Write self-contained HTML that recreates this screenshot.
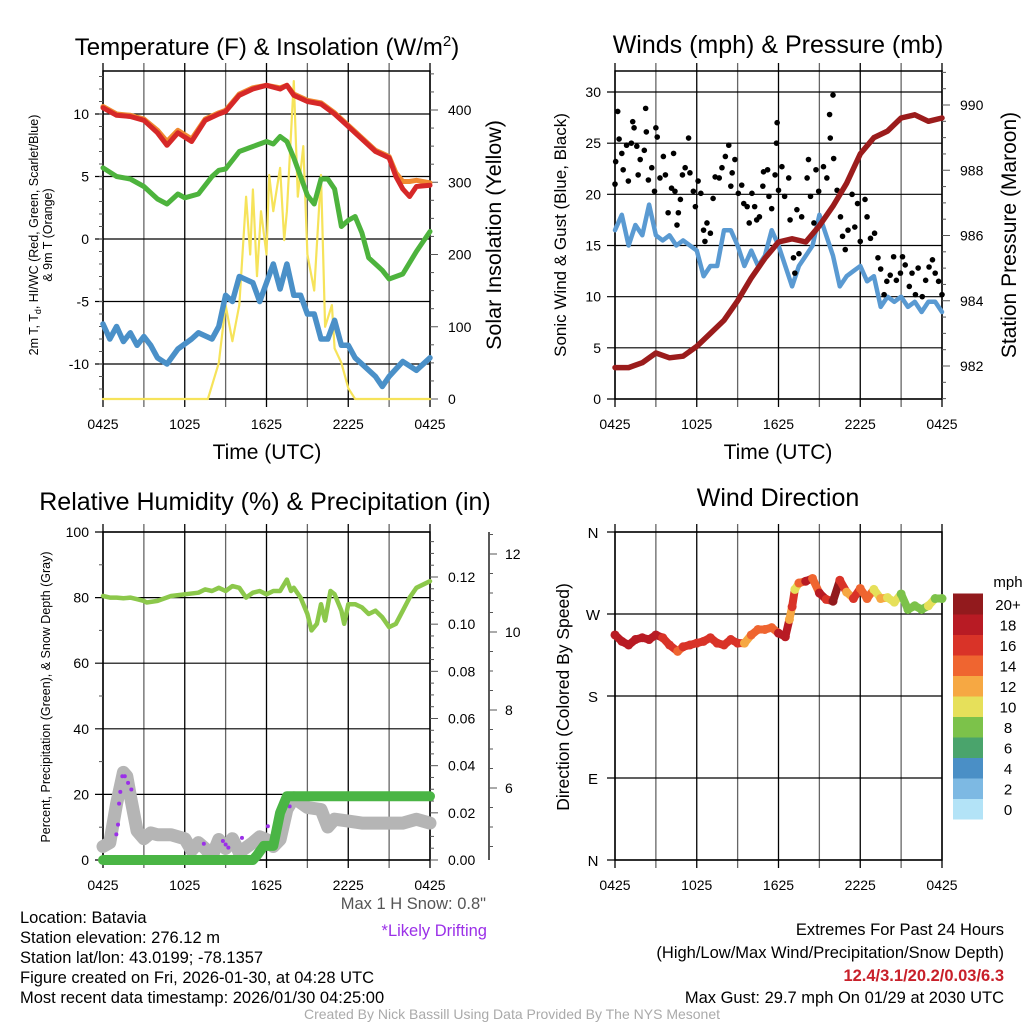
<!DOCTYPE html>
<html><head><meta charset="utf-8"><style>
html,body{margin:0;padding:0;background:#fff;}
svg{display:block;font-family:"Liberation Sans",sans-serif;}
</style></head><body>
<svg id="s" width="1024" height="1024" viewBox="0 0 1024 1024" xmlns="http://www.w3.org/2000/svg">
<g id="g"></g>
<text x="267" y="55" font-size="24" text-anchor="middle">Temperature (F) &amp; Insolation (W/m<tspan dy="-9" font-size="15">2</tspan><tspan dy="9">)</tspan></text>
<text x="778" y="53" font-size="25" text-anchor="middle">Winds (mph) &amp; Pressure (mb)</text>
<text x="265" y="510" font-size="25" text-anchor="middle">Relative Humidity (%) &amp; Precipitation (in)</text>
<text x="778" y="506" font-size="25" text-anchor="middle">Wind Direction</text>
<text x="267" y="459" font-size="21" text-anchor="middle">Time (UTC)</text>
<text x="778" y="459" font-size="21" text-anchor="middle">Time (UTC)</text>
<text transform="translate(38,235) rotate(-90)" font-size="12.5" text-anchor="middle">2m T, T<tspan font-size="9" dy="3">d</tspan><tspan dy="-3">, HI/WC (Red, Green, Scarlet/Blue)</tspan></text>
<text transform="translate(52,235) rotate(-90)" font-size="12.5" text-anchor="middle">&amp; 9m T (Orange)</text>
<text transform="translate(501,235) rotate(-90)" font-size="21.5" text-anchor="middle">Solar Insolation (Yellow)</text>
<text transform="translate(566,235) rotate(-90)" font-size="17" text-anchor="middle">Sonic Wind &amp; Gust (Blue, Black)</text>
<text transform="translate(1016,235) rotate(-90)" font-size="21" text-anchor="middle">Station Pressure (Maroon)</text>
<text transform="translate(50,697) rotate(-90)" font-size="12.5" text-anchor="middle">Percent, Precipitation (Green), &amp; Snow Depth (Gray)</text>
<text transform="translate(569,697) rotate(-90)" font-size="17.5" text-anchor="middle">Direction (Colored By Speed)</text>
<g font-size="16.5">
<text x="486" y="909" text-anchor="end" fill="#555">Max 1 H Snow: 0.8"</text>
<text x="487" y="936" text-anchor="end" fill="#9b30e8">*Likely Drifting</text>
<text x="20" y="923">Location: Batavia</text>
<text x="20" y="943">Station elevation: 276.12 m</text>
<text x="20" y="963">Station lat/lon: 43.0199; -78.1357</text>
<text x="20" y="983">Figure created on Fri, 2026-01-30, at 04:28 UTC</text>
<text x="20" y="1003">Most recent data timestamp: 2026/01/30 04:25:00</text>
<text x="1004" y="935" text-anchor="end">Extremes For Past 24 Hours</text>
<text x="1004" y="958" text-anchor="end">(High/Low/Max Wind/Precipitation/Snow Depth)</text>
<text x="1004" y="981" text-anchor="end" fill="#c8202a" font-weight="bold">12.4/3.1/20.2/0.03/6.3</text>
<text x="1004" y="1003" text-anchor="end">Max Gust: 29.7 mph On 01/29 at 2030 UTC</text>
<text x="512" y="1019" text-anchor="middle" fill="#aaa" font-size="14">Created By Nick Bassill Using Data Provided By The NYS Mesonet</text>
</g>
</svg>
<script>
// ---- Temperature panel data (hours since 0425 UTC) ----
const tempT = [0,1,2,3,4,4.7,5.5,6.5,7.5,8.5,9,10,11,12,13,13.5,14,15,16,17,18,19,20,21,21.5,22,22.5,23,24];
const tempV = [10.5,9.9,9.8,9.5,8.5,7.5,8.5,7.8,9.5,10,10.2,11.5,12,12.3,12,12.3,11.5,11,10.8,10,9,8,7,6.5,5,4,3.4,4.2,4.3];
const t9mV  = [10.6,10,9.9,9.6,8.7,7.8,8.7,8,9.6,10.1,10.3,11.6,12.1,12.3,12.1,12.3,11.6,11.1,10.9,10.1,9.1,8.1,7.1,6.6,5.3,4.6,4.6,4.7,4.5];
const dewT = [0,1,2,3,4,4.7,5.5,6,7,8,8.5,9,10,11,12,12.5,13,13.5,14,14.5,15,15.5,16,16.5,17,17.5,18,18.5,19,19.5,20.5,21,22,23,24];
const dewV = [5.7,5,4.8,4.2,3.2,2.8,3.6,3.3,3.6,5,5.5,5.6,7,7.4,7.8,7.6,8.2,7.8,6.5,5,3.5,2.8,4.8,4.8,4,1,1.5,1.8,0.5,-1.5,-2.5,-3.2,-2.8,-1,0.6];
const wcT = [0,0.5,1,1.5,2,2.5,3,3.5,4,4.7,5.5,6.5,7,8,8.5,9,9.5,10,11,11.5,12,12.5,13,13.5,14,14.5,15,15.5,16,16.5,17,17.5,18,18.5,19,20,20.5,21,22,23,24];
const wcV = [-6.8,-8,-7,-8.2,-7.5,-8.5,-7.8,-8.5,-9.5,-10,-8.8,-8,-7.5,-8,-7,-4.5,-5,-3,-3.5,-5,-3.5,-2,-4,-2,-4.5,-4.5,-6,-6,-8,-8,-6.5,-8.5,-8.5,-9.5,-10,-11,-11.8,-11,-9.8,-10.5,-9.5];
const solT = [0,7.7,8.5,9,9.5,10,10.5,10.8,11,11.3,11.6,12,12.2,12.5,13,13.3,13.5,14,14.3,14.7,15,15.5,16,16.3,16.8,17,17.5,18,18.5,24];
const solV = [0,0,50,130,80,130,280,200,290,170,260,200,310,260,320,220,260,440,280,350,200,150,310,100,130,70,50,15,0,0];
// ---- Wind panel data ----
const windT = [0,0.5,1,1.5,2,2.5,3,3.5,4,4.5,5,6,6.5,7,7.5,8,8.5,9,9.5,10,10.5,11,11.5,12,12.5,13,13.5,14,14.5,15,15.5,16,16.5,17,17.5,18,18.5,19,19.5,20,20.5,21,21.5,22,22.5,23,23.5,24];
const windV = [16.5,18,15,17,16,19,16,15.5,16,15,15.5,14.5,12,13,13,16.5,16.5,15,13,14.5,13,14,16.5,15,13,11,13,14,15,18,16,14,11,12,12.5,13,11.5,12,9,10,9.5,10,9,9.5,8.5,9.5,9.5,8.5];
const presT = [0,1,2,3,4,5,6,7,8,9,10,11,12,13,14,15,16,17,18,19,20,21,22,23,24];
const presV = [981.95,981.95,982.1,982.4,982.25,982.3,982.6,983,983.4,984,984.7,985.3,985.8,985.9,985.8,986.3,986.9,987.6,988.5,989,989.2,989.6,989.7,989.5,989.6];
const gustT = [0,0.05,0.2,0.3,0.5,0.6,0.85,0.98,1.2,1.3,1.4,1.6,1.7,1.85,2.15,2.25,2.3,2.45,2.7,2.9,3,3.1,3.3,3.55,3.7,3.9,4.15,4.3,4.4,4.55,4.65,4.8,4.95,5.15,5.4,5.5,5.75,5.9,6.1,6.3,6.5,6.6,6.75,7,7.2,7.35,7.65,7.85,8.1,8.35,8.5,8.6,8.8,9.05,9.3,9.45,9.7,9.85,10.05,10.25,10.4,10.6,10.85,10.9,11.2,11.3,11.5,11.75,11.85,11.9,12,12.25,12.45,12.75,12.85,13.1,13.2,13.35,13.5,13.7,14.1,14.2,14.35,14.6,14.75,14.95,15.3,15.55,15.75,15.8,16,16.05,16.3,16.55,16.7,16.9,17.1,17.4,17.6,17.8,18,18.35,18.5,18.75,19.05,19.3,19.5,19.75,19.95,20.2,20.45,20.65,20.95,21.1,21.3,21.6,21.8,22.05,22.25,22.55,22.8,23.05,23.3,23.5,23.75,24];
const gustV = [21,23.2,28.1,25.4,24,22.4,24.8,21.3,25,27.1,26.5,24.7,21.9,23.4,24.3,28.4,26.1,21.4,22.6,20.3,26.5,25.6,21.6,23.7,21.9,18.2,20.6,24,20.3,17,18.2,19.5,21.9,22.6,25.5,22.1,20.3,18.8,21.3,20.1,16.5,15.4,17.2,16.2,19.6,21.7,21.6,22.6,23.7,24.8,20.8,22.1,23.4,20.1,20.9,19.1,18.8,17.2,20.1,18.8,17.5,17.8,20.8,22.2,22.4,19.8,18.6,21.9,25,27,20.4,22.7,19.8,21.6,17.5,13.8,12.3,18.5,14.2,17.8,21.6,23.4,19.8,17.2,22.4,20.3,22.7,21.6,27.8,25.5,29.7,23.5,20.4,17.8,15.9,14.6,16.5,20,16.8,19.1,15.4,19.5,17.8,15.7,16.2,13.8,12.7,10.2,11.5,12.1,13.9,11.6,12.3,13.9,13.1,11,12.3,10.2,12.8,10,11.6,12.9,13.6,12.3,11.5,10.2];
// ---- RH panel data ----
const rhT = [0,0.5,1,1.5,2,2.5,3,3.2,4,5,6,7,7.5,8,8.5,9,9.5,10,10.5,11,11.5,12,12.5,13,13.5,13.8,14,14.5,15,15.3,15.7,16,16.3,16.7,17,17.5,17.7,18,18.5,19,19.5,20,20.5,21,21.5,22,22.5,23,24];
const rhV = [80.5,80,80,79.8,80,79.5,79,78.5,79,80.5,81,81.5,82.5,82,83,82,83.5,83,80,81.5,82,81,82,82,85.5,82,83,80,75,70,72,78,73,82,81,76,72,78,78,77,75,76,74,71,72,76,80,83,85];
const precT = [0,11,11.3,11.8,12.5,13,13.5,24];
const precV = [0,0,0.002,0.006,0.006,0.02,0.027,0.027];
const snowT = [0,0.5,1,1.5,1.75,2,2.5,3,3.5,4,5,6,6.5,7,7.5,8,8.5,9,9.5,10,11,11.5,12,12.5,13,13.5,14,15,16,16.5,17,18,19,20,21,22,23,24];
const snowV = [4.5,4.6,5.6,6.4,6.3,5.8,4.9,4.7,4.85,4.8,4.8,4.7,4.4,4.6,4.45,4.25,4.68,4.45,4.7,4.35,4.6,4.75,4.68,4.5,4.68,5.45,5.75,5.5,5.45,5.0,5.2,5.15,5.1,5.1,5.1,5.1,5.2,5.1];
const driftT = [0.98,1.1,1.18,1.27,1.42,1.6,1.84,2.08,7.4,8.8,9.0,9.2,10.2,12.1,13.7];
const driftV = [4.81,5.06,5.6,5.9,6.3,6.3,6.13,5.96,4.57,4.64,4.55,4.47,4.72,5.02,5.53];
// ---- Wind direction data ----
const dirT = [0,0.5,1,1.5,2,2.5,3,3.5,4,4.6,5,5.5,6,6.5,7,7.5,8,8.5,9,9.5,10,10.5,11,11.5,12,12.5,12.8,13,13.2,13.5,14,14.5,15,15.5,16,16.5,17,17.5,18,18.5,19,19.5,20,20.5,21,21.5,22,22.5,23,23.5,24];
const dirV = [247,240,236,242,244,242,247,244,236,229,234,236,238,240,244,238,236,242,238,238,247,253,253,255,249,245,264,278,297,304,306,309,293,286,284,307,294,287,298,287,297,287,288,283,292,275,279,275,279,287,287];
const dirS = [17,17,17,17,17,17,17,16,16,13,16,15,15,15,15,15,15,15,15,12,14,14,14,14,17,17,12,16,10,14,17,14,17,16,19,16,12,15,14,13,9,11,10,9,8,7,8,7,10,8,8];
const cbLabels = ["0","2","4","6","8","10","12","14","16","18","20+"];
const cbColors = ["#b3e3f7","#7db9e3","#4a8fc6","#4aa46c","#7cc24a","#e6e05a","#f6a843","#ef6530","#d93328","#b81b24","#921a1d"];
const xTickLabels = ["0425","1025","1625","2225","0425"];

const NS="http://www.w3.org/2000/svg", G=document.getElementById('g');
function el(tag,attrs,parent){const e=document.createElementNS(NS,tag);for(const k in attrs)e.setAttribute(k,attrs[k]);(parent||G).appendChild(e);return e;}
function txt(x,y,s,size,anchor,parent){const e=el('text',{x:x,y:y,'font-size':size,'text-anchor':anchor||'middle'},parent);e.textContent=s;return e;}
function lin(a,b,c,d){return v=>c+(v-a)*(d-c)/(b-a);}
function path(xs,ys,T,V,stroke,w,name,extra){
  let d='';for(let i=0;i<T.length;i++)d+=(i?'L':'M')+xs(T[i]).toFixed(1)+','+ys(V[i]).toFixed(1);
  const p=el('path',Object.assign({d:d,fill:'none',stroke:stroke,'stroke-width':w,'stroke-linejoin':'round','stroke-linecap':'round'},extra||{}));
  
  
  return p;
}
function frame(x0,x1,y0,y1,name){
  const g=el('g',{});
  
  
  for(let h=0;h<=24;h+=3){const x=x0+h*(x1-x0)/24;el('line',{x1:x,x2:x,y1:y0-8,y2:y1+8,stroke:(h%6==0?'#000':'#666'),'stroke-width':1.3},g);}
  for(let i=0;i<5;i++){const t=txt(x0+i*6*(x1-x0)/24,y1+30,xTickLabels[i],14,'middle',g);}
  el('rect',{x:x0,y:y0,width:x1-x0,height:y1-y0,fill:'none',stroke:'#000','stroke-width':1.5},g);
  return g;
}
function hgrid(x0,x1,y,g){el('line',{x1:x0-8,x2:x1,y1:y,y2:y,stroke:'#000','stroke-width':1.2},g);}

// ===== Panel 1: temperature =====
(function(){
  const x0=103,x1=430,y0=71,y1=399;const xs=lin(0,24,x0,x1),ys=lin(0,10,239,114),ss=lin(0,400,399,110);
  const g=frame(x0,x1,y0,y1,'temp-panel');
  [-10,-5,0,5,10].forEach(v=>{hgrid(x0,x1,ys(v),g);const t=txt(x0-14,ys(v)+5,String(v),14,'end',g);});
  for(let v=-12;v<=13;v++)el('line',{x1:x0-4,x2:x0,y1:ys(v),y2:ys(v),stroke:'#555'},g);
  for(let v=0;v<=450;v+=25)el('line',{x1:x1,x2:x1+(v%100==0?8:4),y1:ss(v),y2:ss(v),stroke:'#555'},g);
  [0,100,200,300,400].forEach(v=>{const t=txt(x1+18,ss(v)+5,String(v),14,'start',g);});
  path(xs,ss,solT,solV,'#f6e35a',2.2,'solar-insolation-line');
  path(xs,ys,wcT,wcV,'#4a90c8',5.5,'wind-chill-line');
  path(xs,ys,dewT,dewV,'#4db33d',5,'dewpoint-line');
  path(xs,ys,tempT,t9mV,'#f08a30',5,'temp-9m-line');
  path(xs,ys,tempT,tempV,'#d62828',5,'temp-2m-line');
})();
// ===== Panel 2: wind =====
(function(){
  const x0=615,x1=942,y0=71,y1=399;const xs=lin(0,24,x0,x1),ys=lin(0,30,399,92),ps=lin(982,990,366,105);
  const g=frame(x0,x1,y0,y1,'wind-panel');
  [0,5,10,15,20,25,30].forEach(v=>{hgrid(x0,x1,ys(v),g);const t=txt(x0-14,ys(v)+5,String(v),14,'end',g);});
  for(let v=981;v<=991;v+=0.5)el('line',{x1:x1,x2:x1+(v%2==0?8:4),y1:ps(v),y2:ps(v),stroke:'#555'},g);
  [982,984,986,988,990].forEach(v=>{const t=txt(x1+18,ps(v)+5,String(v),14,'start',g);});
  path(xs,ys,windT,windV,'#5a9ad2',4.5,'sonic-wind-line');
  for(let i=0;i<gustT.length;i++){const c=el('circle',{cx:xs(gustT[i]),cy:ys(gustV[i]),r:2.8,fill:'#000'});
    
    }
  path(xs,ps,presT,presV,'#9b1c1c',5.5,'pressure-line');
})();
// ===== Panel 3: RH =====
(function(){
  const x0=103,x1=430,y0=532,y1=860;const xs=lin(0,24,x0,x1),ys=lin(0,100,860,532),pr=lin(0,0.12,860,577),sn=lin(6,12,788,554);
  const g=frame(x0,x1,y0,y1,'rh-panel');
  [0,20,40,60,80,100].forEach(v=>{hgrid(x0,x1,ys(v),g);const t=txt(x0-14,ys(v)+5,String(v),14,'end',g);});
  for(let v=10;v<100;v+=20)el('line',{x1:x0-4,x2:x0,y1:ys(v),y2:ys(v),stroke:'#555'},g);
  for(let v=0;v<=0.138;v+=0.005)el('line',{x1:x1,x2:x1+(Math.round(v*1000)%20==0?8:4),y1:pr(v),y2:pr(v),stroke:'#555'},g);
  ['0.00','0.02','0.04','0.06','0.08','0.10','0.12'].forEach(s=>{const t=txt(x1+18,pr(+s)+5,s,14,'start',g);});
  el('line',{x1:489,x2:489,y1:532,y2:860,stroke:'#000','stroke-width':1.3},g);
  for(let v=4.5;v<=12.5;v+=0.5)el('line',{x1:489,x2:489+(v%2==0?8:4),y1:sn(v),y2:sn(v),stroke:'#555'},g);
  [6,8,10,12].forEach(v=>{const t=txt(505,sn(v)+5,String(v),14,'start',g);});
  path(xs,sn,snowT,snowV,'#b5b5b5',13,'snow-depth-line');
  for(let i=0;i<driftT.length;i++){const c=el('circle',{cx:xs(driftT[i]),cy:sn(driftV[i]),r:2,fill:'#9b30e8'});
    
    }
  path(xs,pr,precT,precV,'#4ab545',10,'precip-line');
  path(xs,ys,rhT,rhV,'#8cc84b',4.5,'rh-line');
})();
// ===== Panel 4: direction =====
(function(){
  const x0=615,x1=942,y0=532,y1=860;const xs=lin(0,24,x0,x1),ys=lin(0,360,860,532);
  const g=frame(x0,x1,y0,y1,'direction-panel');
  const lab=['N','E','S','W','N'];
  [0,90,180,270,360].forEach((v,i)=>{hgrid(x0,x1,ys(v),g);const t=txt(x0-22,ys(v)+6,lab[i],15,'middle',g);});
  const col=s=>cbColors[Math.min(10,Math.floor((s+1)/2))];
  for(let i=0;i<dirT.length-1;i++){const l=el('line',{x1:xs(dirT[i]),y1:ys(dirV[i]),x2:xs(dirT[i+1]),y2:ys(dirV[i+1]),stroke:col(dirS[i]),'stroke-width':8,'stroke-linecap':'round'});
    
    }
  for(let i=0;i<dirT.length;i++){const c=el('circle',{cx:xs(dirT[i]),cy:ys(dirV[i]),r:4.5,fill:col(dirS[i])});
    
    }
  const cb=el('g',{});
  
  
  const h=20.5;
  for(let i=0;i<cbColors.length;i++){const yy=819-(i+1)*h;el('rect',{x:953,y:yy,width:30,height:h+0.5,fill:cbColors[i]},cb);const t=txt(1008,yy+h/2+6,cbLabels[i],15,'middle',cb);}
  const m=txt(1008,587,'mph',15,'middle',cb);
})();
</script>
</body></html>
